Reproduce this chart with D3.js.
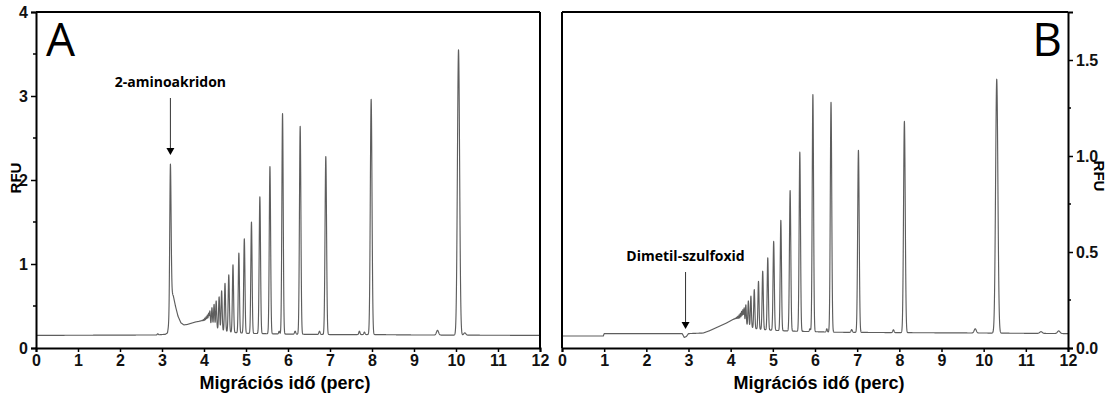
<!DOCTYPE html>
<html><head><meta charset="utf-8">
<script src="https://cdn.jsdelivr.net/npm/d3@7"></script>
<style>
body{margin:0;background:#fff;}
svg{display:block;}
.tick text{font-family:"Liberation Sans",Arial,sans-serif;font-weight:bold;font-size:16px;fill:#111;}
</style></head>
<body><svg id="c" width="1117" height="397"></svg>
<script>
// ---------- DATA ----------
const xTicks = [0,1,2,3,4,5,6,7,8,9,10,11,12];
const yTicksA = [0,1,2,3,4];
const yTicksB = [0,0.5,1.0,1.5];
const xLabel = "Migrációs idő (perc)";
const yLabel = "RFU";

// Panel A baseline (time, RFU)
const baseA_t = [0,2.85,3.08,3.13,3.17,3.2,3.23,3.27,3.32,3.38,3.45,3.52,3.6,3.7,3.8,3.9,3.95,4.05,4.15,4.25,4.35,4.5,4.7,5.0,5.5,6.0,7.0,8.0,9.0,12];
const baseA_v = [0.15,0.155,0.163,0.18,0.3,0.6,0.67,0.62,0.5,0.38,0.3,0.275,0.28,0.295,0.31,0.32,0.32,0.3,0.27,0.24,0.22,0.2,0.185,0.175,0.17,0.165,0.16,0.16,0.155,0.15];
// Panel A peaks: apex time, apex height (RFU), width (min)
const peakA_t = [2.9,3.2,3.87,3.90,3.93,3.96,3.99,4.02,4.05,4.08,4.11,4.14,4.19,4.24,4.29,4.36,4.42,4.50,4.59,4.69,4.83,4.96,5.13,5.33,5.57,5.79,5.87,6.17,6.29,6.75,6.90,7.70,7.82,7.98,9.56,10.06,10.21];
const peakA_h = [0.17,2.19,0.315,0.32,0.325,0.33,0.34,0.355,0.37,0.39,0.41,0.44,0.48,0.52,0.56,0.61,0.68,0.77,0.87,0.99,1.13,1.30,1.50,1.80,2.16,0.2,2.79,0.2,2.64,0.2,2.28,0.2,0.19,2.96,0.21,3.55,0.18];
const peakA_w = [0.012,0.016,0.008,0.008,0.009,0.009,0.009,0.009,0.01,0.01,0.01,0.011,0.012,0.012,0.012,0.013,0.013,0.013,0.014,0.014,0.014,0.015,0.015,0.016,0.016,0.012,0.016,0.015,0.017,0.015,0.018,0.014,0.014,0.02,0.025,0.026,0.025];

// Panel B baseline
const baseB_t = [0,0.98,1.0,2.85,2.9,2.95,3.0,3.35,3.5,3.7,3.9,4.05,4.12,4.2,4.3,4.45,4.6,4.8,5.2,5.6,6.5,8.0,10.0,12];
const baseB_v = [0.0625,0.0625,0.075,0.075,0.055,0.06,0.075,0.078,0.09,0.11,0.13,0.148,0.15,0.14,0.125,0.11,0.1,0.095,0.09,0.087,0.082,0.08,0.078,0.075];
const peakB_t = [4.08,4.11,4.14,4.17,4.20,4.23,4.26,4.29,4.32,4.36,4.42,4.48,4.56,4.66,4.76,4.88,5.02,5.19,5.41,5.64,5.88,5.95,6.28,6.38,6.87,7.03,7.86,8.12,9.80,10.31,11.36,11.78];
const peakB_h = [0.152,0.155,0.16,0.165,0.172,0.18,0.19,0.198,0.208,0.225,0.245,0.27,0.304,0.347,0.40,0.47,0.555,0.665,0.82,1.02,0.10,1.32,0.10,1.28,0.096,1.03,0.095,1.18,0.10,1.40,0.085,0.089];
const peakB_w = [0.008,0.008,0.009,0.009,0.009,0.009,0.01,0.01,0.01,0.011,0.012,0.012,0.013,0.013,0.014,0.014,0.015,0.015,0.016,0.016,0.012,0.016,0.012,0.017,0.015,0.018,0.015,0.02,0.025,0.027,0.03,0.03];

// ---------- BUILD ----------
function trace(bt,bv,pt,ph,pw){
  const base = d3.scaleLinear().domain(bt).range(bv).clamp(true);
  const amps = pt.map((t,i)=>ph[i]-base(t));
  const pts=[];
  for(let k=0;k<=6000;k++){
    const t=k*0.002;
    let v=base(t);
    for(let i=0;i<pt.length;i++){
      const d=(t-pt[i])/pw[i];
      if(Math.abs(d)<6) v+=amps[i]*Math.exp(-0.5*d*d);
    }
    pts.push([t,v]);
  }
  return pts;
}

const svg=d3.select("#c");
const font='"Liberation Sans",Arial,sans-serif';

function panel(opt){
  const x=d3.scaleLinear().domain([0,12]).range([opt.x0,opt.x1]);
  const y=d3.scaleLinear().domain(opt.yDom).range([opt.yb,opt.yt]);
  const g=svg.append("g");
  const line=d3.line().x(d=>x(d[0])).y(d=>y(d[1]));
  g.append("path").datum(opt.data).attr("d",line).attr("fill","none")
   .attr("stroke","#5e5e5e").attr("stroke-width",1.15).attr("stroke-linejoin","round");
  g.append("line").attr("x1",opt.x0).attr("x2",opt.x1).attr("y1",opt.yt).attr("y2",opt.yt).attr("stroke","#000").attr("stroke-width",2);
  const fx = opt.right ? opt.x0 : opt.x1;
  g.append("line").attr("x1",fx).attr("x2",fx).attr("y1",opt.yt).attr("y2",opt.yb).attr("stroke","#000").attr("stroke-width",2);
  const xa=g.append("g").attr("transform",`translate(0,${opt.yb})`)
    .call(d3.axisBottom(x).tickValues(xTicks).tickFormat(d3.format("d")).tickSize(4).tickPadding(3));
  xa.select(".domain").attr("stroke","#000").attr("stroke-width",2);
  xa.selectAll(".tick line").attr("stroke","#000").attr("stroke-width",1.5);
  const yMinor = opt.minor;
  if(opt.right){
    const ya=g.append("g").attr("transform",`translate(${opt.x1},0)`)
      .call(d3.axisRight(y).tickValues(opt.yTicks).tickFormat(d3.format(".1f")).tickSize(5).tickPadding(3));
    ya.select(".domain").attr("stroke","#000").attr("stroke-width",2);
    ya.selectAll(".tick line").attr("stroke","#000").attr("stroke-width",1.5);
    g.selectAll(".mn").data(yMinor).join("line").attr("x1",opt.x1).attr("x2",opt.x1+3)
      .attr("y1",d=>y(d)).attr("y2",d=>y(d)).attr("stroke","#000").attr("stroke-width",1.5);
    g.append("text").attr("transform",`translate(1094,176) rotate(90)`).attr("text-anchor","middle")
      .attr("font-family",font).attr("font-weight","bold").attr("font-size",15).text(yLabel);
  } else {
    const ya=g.append("g").attr("transform",`translate(${opt.x0},0)`)
      .call(d3.axisLeft(y).tickValues(opt.yTicks).tickFormat(d3.format("d")).tickSize(5).tickPadding(3));
    ya.select(".domain").attr("stroke","#000").attr("stroke-width",2);
    ya.selectAll(".tick line").attr("stroke","#000").attr("stroke-width",1.5);
    g.selectAll(".mn").data(yMinor).join("line").attr("x1",opt.x0).attr("x2",opt.x0-3)
      .attr("y1",d=>y(d)).attr("y2",d=>y(d)).attr("stroke","#000").attr("stroke-width",1.5);
    g.append("text").attr("transform",`translate(21,178) rotate(-90)`).attr("text-anchor","middle")
      .attr("font-family",font).attr("font-weight","bold").attr("font-size",15).text(yLabel);
  }
  g.append("text").attr("x",(opt.x0+opt.x1)/2 + opt.xlOff).attr("y",389).attr("text-anchor","middle")
    .attr("font-family",font).attr("font-weight","bold").attr("font-size",18).text(xLabel);
  g.append("text").attr("x",opt.letterX).attr("y",56).attr("text-anchor",opt.right?"end":"start")
    .attr("font-family",'"Open Sans",sans-serif').attr("font-size",46).attr("fill","#000").text(opt.letter);
  const ax=x(opt.annT);
  g.append("text").attr("x",ax).attr("y",opt.annY).attr("text-anchor","middle")
    .attr("font-family",'"Open Sans",sans-serif').attr("font-weight","bold").attr("font-size",14).text(opt.ann);
  g.append("line").attr("x1",ax).attr("x2",ax).attr("y1",opt.annY+11).attr("y2",opt.arrY-6).attr("stroke","#333").attr("stroke-width",1);
  g.append("path").attr("d",`M${ax-4},${opt.arrY-7}L${ax+4},${opt.arrY-7}L${ax},${opt.arrY}Z`).attr("fill","#000");
}

panel({x0:36,x1:540,yt:12,yb:348,yDom:[0,4],yTicks:yTicksA,minor:[0.5,1.5,2.5,3.5],
  data:trace(baseA_t,baseA_v,peakA_t,peakA_h,peakA_w),right:false,letter:"A",letterX:46,xlOff:-3,
  ann:"2-aminoakridon",annT:3.2,annY:87,arrY:155});
panel({x0:562,x1:1068,yt:12,yb:348,yDom:[0,1.75],yTicks:yTicksB,minor:[0.25,0.75,1.25],
  data:trace(baseB_t,baseB_v,peakB_t,peakB_h,peakB_w),right:true,letter:"B",letterX:1062,xlOff:4,
  ann:"Dimetil-szulfoxid",annT:2.93,annY:261,arrY:329});
</script></body></html>
